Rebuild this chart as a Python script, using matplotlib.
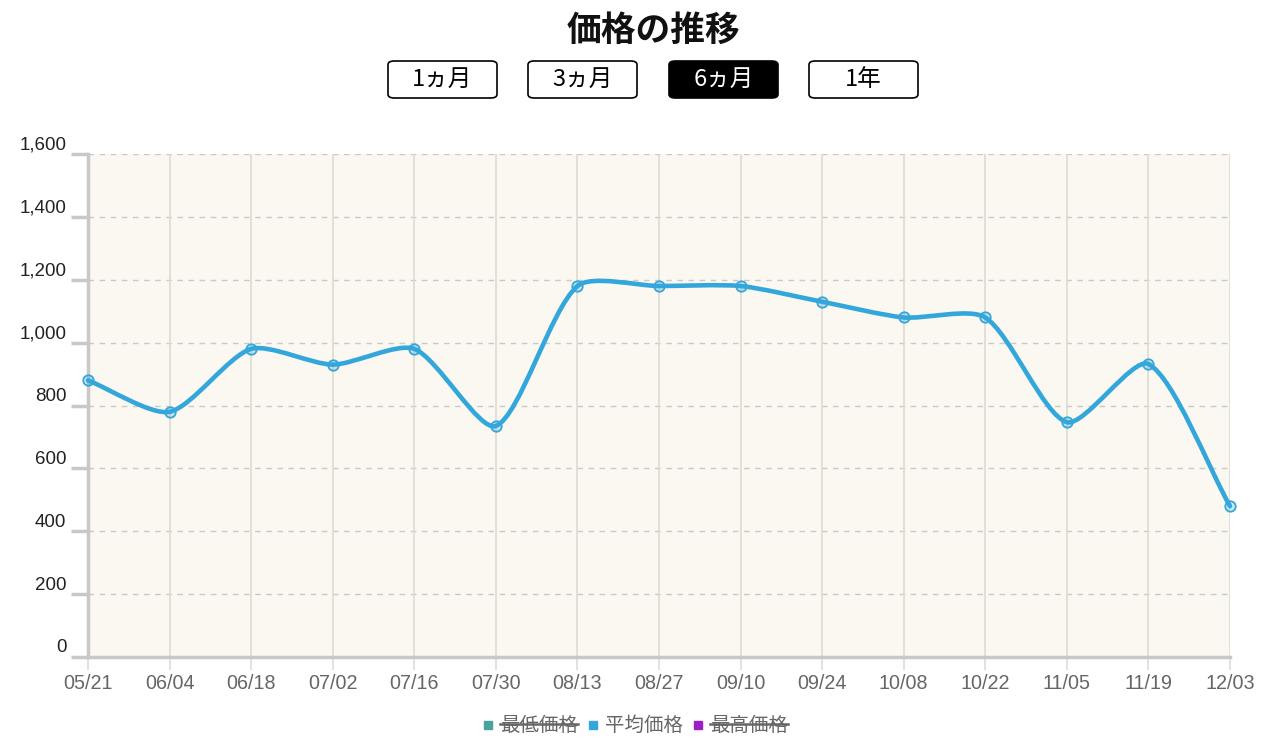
import numpy as np
import matplotlib
matplotlib.use('Agg')
import matplotlib.pyplot as plt
from matplotlib.path import Path
from matplotlib.patches import PathPatch, FancyBboxPatch, Rectangle
from matplotlib.transforms import blended_transform_factory, ScaledTranslation

plt.rcParams['font.family'] = ['Noto Sans CJK JP', 'DejaVu Sans']

# data
dates = ['05/21', '06/04', '06/18', '07/02', '07/16', '07/30', '08/13', '08/27',
         '09/10', '09/24', '10/08', '10/22', '11/05', '11/19', '12/03']
avg_price = [880, 780, 980, 930, 980, 735, 1180, 1180, 1180, 1130, 1080, 1080, 747, 932, 480]
y_ticks = [0, 200, 400, 600, 800, 1000, 1200, 1400, 1600]
buttons = ['1ヵ月', '3ヵ月', '6ヵ月', '1年']
active_button = '6ヵ月'
legend_labels = ['最低価格', '平均価格', '最高価格']
legend_colors = ['#4aa39e', '#33a7dc', '#9b1fc4']
legend_hidden = [True, False, True]

W, H = 1263, 739
fig = plt.figure(figsize=(W / 100, H / 100), dpi=100)
ax = fig.add_axes([88 / W, 1 - 657 / H, (1230 - 88) / W, (657 - 154) / H])
ax.set_facecolor('#faf8f0')

x = np.arange(len(dates))
y = np.array(avg_price, dtype=float)
ax.set_xlim(0, len(dates) - 1)
ax.set_ylim(0, 1600)

# grid
for yt in y_ticks[1:]:
    ax.axhline(yt, color='#c9c9c9', lw=1, ls=(0, (4, 4)), zorder=1)
for xi in x[1:]:
    ax.axvline(xi, color='#dedbd3', lw=1.2, zorder=1)

for s in ['top', 'right']:
    ax.spines[s].set_visible(False)
for s in ['left', 'bottom']:
    ax.spines[s].set_color('#c8c8c8')
    ax.spines[s].set_linewidth(2.5)

ax.set_yticks(y_ticks)
ax.set_yticklabels([])
ax.tick_params(axis='y', length=12, width=2.5, color='#c8c8c8')
ax.set_xticks(x)
ax.set_xticklabels([])
ax.tick_params(axis='x', length=9, width=1.2, color='#dedbd3')

ytf = blended_transform_factory(ax.transAxes, ax.transData)
for yt in y_ticks:
    ax.text(-0.019, yt, f'{yt:,}', transform=ytf + ScaledTranslation(0, 0.09, fig.dpi_scale_trans),
            ha='right', va='center', fontsize=13.5, color='#222222', family='Liberation Sans')
xtf = blended_transform_factory(ax.transData, ax.transAxes)
for xi, d in zip(x, dates):
    ax.text(xi, -0.052, d, transform=xtf, ha='center', va='center', fontsize=14.2,
            color='#666666', family='Liberation Sans')

# smooth line like a bezier spline with tension
def spline_path(xs, ys, t=0.25):
    sx, sy = 81.6, 0.3144
    n = len(xs)
    cps = []
    for i in range(n):
        p = max(i - 1, 0)
        q = min(i + 1, n - 1)
        d01 = np.hypot((xs[i] - xs[p]) * sx, (ys[i] - ys[p]) * sy)
        d12 = np.hypot((xs[q] - xs[i]) * sx, (ys[q] - ys[i]) * sy)
        tot = d01 + d12
        fa = t * d01 / tot if tot else 0
        fb = t * d12 / tot if tot else 0
        cin = (xs[i] - fa * (xs[q] - xs[p]), ys[i] - fa * (ys[q] - ys[p]))
        cout = (xs[i] + fb * (xs[q] - xs[p]), ys[i] + fb * (ys[q] - ys[p]))
        cps.append((cin, cout))
    verts = [(xs[0], ys[0])]
    codes = [Path.MOVETO]
    for i in range(n - 1):
        verts += [cps[i][1], cps[i + 1][0], (xs[i + 1], ys[i + 1])]
        codes += [Path.CURVE4] * 3
    return Path(verts, codes)

ax.add_patch(PathPatch(spline_path(x, y), fill=False, edgecolor='#33a7dc', lw=3.3,
                       capstyle='round', joinstyle='round', zorder=3, clip_on=False))
ax.plot(x, y, 'o', ms=7.5, mfc=(0.2, 0.65, 0.86, 0.25), mec='#33a7dc', mew=1.3,
        zorder=4, clip_on=False)

# title and period buttons
fig.text(653 / W, 1 - 30 / H, '価格の推移', ha='center', va='center', fontsize=25,
         fontweight='bold', color='#111111')
bx = [388, 528, 669, 809]
for b, left in zip(buttons, bx):
    on = b == active_button
    fig.patches.append(FancyBboxPatch((left / W, 1 - 98 / H), 109 / W, 37 / H,
                                      boxstyle='round,pad=0,rounding_size=0.005',
                                      transform=fig.transFigure, facecolor='black' if on else 'white',
                                      edgecolor='black', lw=1.2))
    fig.text((left + 54.5) / W, 1 - 79 / H, b, ha='center', va='center', fontsize=17,
             color='white' if on else 'black')

# legend
fig.canvas.draw()
r = fig.canvas.get_renderer()
items = []
for lab in legend_labels:
    t = fig.text(0, 0, lab, fontsize=14, color='#666666', va='center')
    items.append((t, t.get_window_extent(r).width))
sq, gap1, gap2 = 8, 8, 11
total = sum(sq + gap1 + w for _, w in items) + gap2 * (len(items) - 1)
cx = 636 - total / 2
yc = 725
for (t, w), col, hid in zip(items, legend_colors, legend_hidden):
    fig.patches.append(Rectangle((cx / W, 1 - (yc + sq / 2) / H), sq / W, sq / H,
                                 transform=fig.transFigure, color=col))
    tx = cx + sq + gap1
    t.set_position((tx / W, 1 - yc / H))
    if hid:
        fig.lines.append(plt.Line2D([tx / W, (tx + w) / W], [1 - (yc - 1) / H] * 2,
                                    transform=fig.transFigure, color='#666666', lw=1.8))
    cx = tx + w + gap2

fig.savefig('out.png', dpi=100)
